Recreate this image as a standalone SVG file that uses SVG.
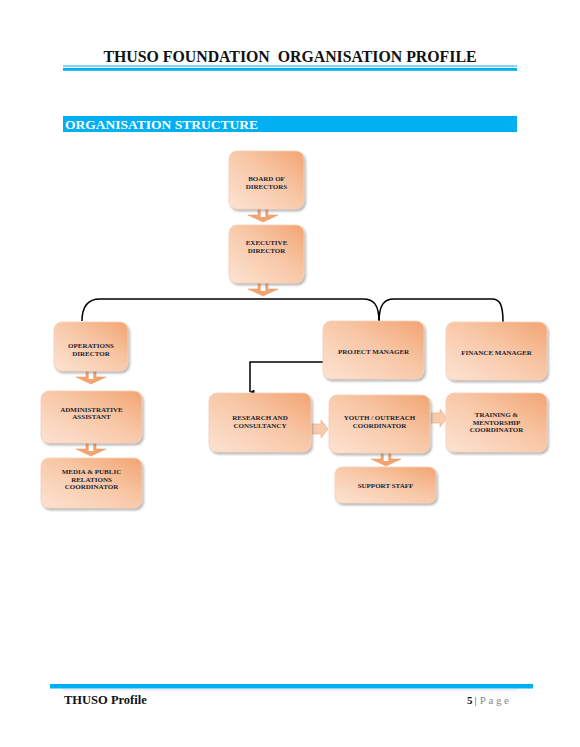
<svg xmlns="http://www.w3.org/2000/svg" width="580" height="747" viewBox="0 0 580 747">
<defs>
<linearGradient id="peach" x1="1" y1="0" x2="0" y2="1">
<stop offset="0" stop-color="#F2A472"/>
<stop offset="0.45" stop-color="#F8C7A6"/>
<stop offset="1" stop-color="#FCE3D3"/>
</linearGradient>
<filter id="sh" x="-10%" y="-10%" width="130%" height="130%">
<feDropShadow dx="1.5" dy="2" stdDeviation="1" flood-color="#7a7a7a" flood-opacity="0.55"/>
</filter>
<marker id="ah" viewBox="0 0 10 10" refX="5" refY="9" markerWidth="5" markerHeight="5" orient="auto-start-reverse" markerUnits="userSpaceOnUse">
<path d="M0,0 L10,0 L5,10 z" fill="#000"/>
</marker>
<g id="darr">
<path d="M-5,0 H5 V6 H15 L0,13 L-15,6 H-5 Z" fill="#F2A470" stroke="#E8905A" stroke-width="0.5"/>
<rect x="-2.3" y="0" width="4.6" height="8" fill="#fff"/>
</g>
<g id="rarr">
<path d="M0,-5 H9 V-9 L16,0 L9,9 V5 H0 Z" fill="#F9CBAD" stroke="#EDA57C" stroke-width="0.6"/>
</g>
</defs>
<style>
.box{fill:url(#peach);stroke:#F6D2BB;stroke-width:0.8;filter:url(#sh)}
.t{font-family:"Liberation Serif","Times New Roman",serif;font-weight:bold;font-size:7px;fill:#1e1e2e;text-anchor:middle}
.conn{fill:none;stroke:#000;stroke-width:1.5}
</style>

<g id="header">
<text x="290" y="62" xml:space="preserve" font-family="Liberation Serif, serif" font-weight="bold" font-size="16" fill="#111" text-anchor="middle" textLength="373" lengthAdjust="spacingAndGlyphs">THUSO FOUNDATION  ORGANISATION PROFILE</text>
<rect x="63" y="65.5" width="454" height="1" fill="#00B0F0"/>
<rect x="63" y="68" width="454" height="2.8" fill="#00B0F0"/>
<rect x="63" y="116" width="454" height="16" fill="#00B0F0"/>
<text x="65" y="128.5" font-family="Liberation Serif, serif" font-weight="bold" font-size="12.5" fill="#fff" textLength="193" lengthAdjust="spacingAndGlyphs">ORGANISATION STRUCTURE</text>
</g>

<g id="connectors">
<path class="conn" d="M82,321 C82,306 88,299 100,299 H363 C374,299 379,305 379,322"/>
<path class="conn" d="M379,322 C379,305 384,299 394,299 H492 C500,299 503,305 503,322"/>
<path class="conn" d="M323,362 H250 V392" stroke-width="1.2" marker-end="url(#ah)"/>
<use href="#darr" x="263" y="209"/>
<use href="#darr" x="263" y="283"/>
<use href="#darr" x="91" y="371"/>
<use href="#darr" x="91" y="443"/>
<use href="#darr" x="386" y="453"/>
<use href="#rarr" x="312" y="429"/>
<use href="#rarr" x="431" y="418"/>
</g>

<g id="board"><rect class="box" x="229" y="151" width="75" height="58" rx="8"/>
<text class="t" x="266.5" y="181">BOARD OF</text><text class="t" x="266.5" y="188.5">DIRECTORS</text></g>

<g id="exec"><rect class="box" x="229" y="225" width="75" height="58" rx="8"/>
<text class="t" x="266.5" y="245">EXECUTIVE</text><text class="t" x="266.5" y="252.5">DIRECTOR</text></g>

<g id="ops"><rect class="box" x="54" y="322" width="74" height="49" rx="8"/>
<text class="t" x="91" y="348">OPERATIONS</text><text class="t" x="91" y="355.5">DIRECTOR</text></g>

<g id="admin"><rect class="box" x="41" y="391" width="101" height="52" rx="8"/>
<text class="t" x="91.5" y="411.5">ADMINISTRATIVE</text><text class="t" x="91.5" y="419">ASSISTANT</text></g>

<g id="media"><rect class="box" x="41" y="458" width="101" height="50" rx="8"/>
<text class="t" x="91.5" y="474">MEDIA &amp; PUBLIC</text><text class="t" x="91.5" y="481.5">RELATIONS</text><text class="t" x="91.5" y="489">COORDINATOR</text></g>

<g id="pm"><rect class="box" x="323" y="321" width="101" height="58" rx="8"/>
<text class="t" x="373.5" y="353.5">PROJECT MANAGER</text></g>

<g id="finance"><rect class="box" x="446" y="322" width="101" height="58" rx="8"/>
<text class="t" x="496.5" y="354.5">FINANCE MANAGER</text></g>

<g id="research"><rect class="box" x="209" y="393" width="102" height="59" rx="8"/>
<text class="t" x="260" y="420">RESEARCH AND</text><text class="t" x="260" y="427.5">CONSULTANCY</text></g>

<g id="youth"><rect class="box" x="329" y="395" width="101" height="58" rx="8"/>
<text class="t" x="379.5" y="420">YOUTH / OUTREACH</text><text class="t" x="379.5" y="427.5">COORDINATOR</text></g>

<g id="training"><rect class="box" x="446" y="393" width="101" height="59" rx="8"/>
<text class="t" x="496.5" y="417">TRAINING &amp;</text><text class="t" x="496.5" y="424.5">MENTORSHIP</text><text class="t" x="496.5" y="432">COORDINATOR</text></g>

<g id="support"><rect class="box" x="335" y="467" width="101" height="36" rx="7"/>
<text class="t" x="385.5" y="487.5">SUPPORT STAFF</text></g>

<g id="footer">
<rect x="50" y="684" width="483" height="4.5" fill="#00B0F0"/>
<rect x="63" y="689.5" width="454" height="0.8" fill="#cfd8dc"/>
<text x="64" y="703.5" font-family="Liberation Serif, serif" font-weight="bold" font-size="12.5" fill="#111">THUSO Profile</text>
<text x="467" y="703.5" font-family="Liberation Serif, serif" font-size="11" fill="#111"><tspan font-weight="bold">5</tspan><tspan fill="#7a2030" dx="2">|</tspan><tspan fill="#8a8a8a" dx="3" letter-spacing="2.6">Page</tspan></text>
</g>
</svg>
